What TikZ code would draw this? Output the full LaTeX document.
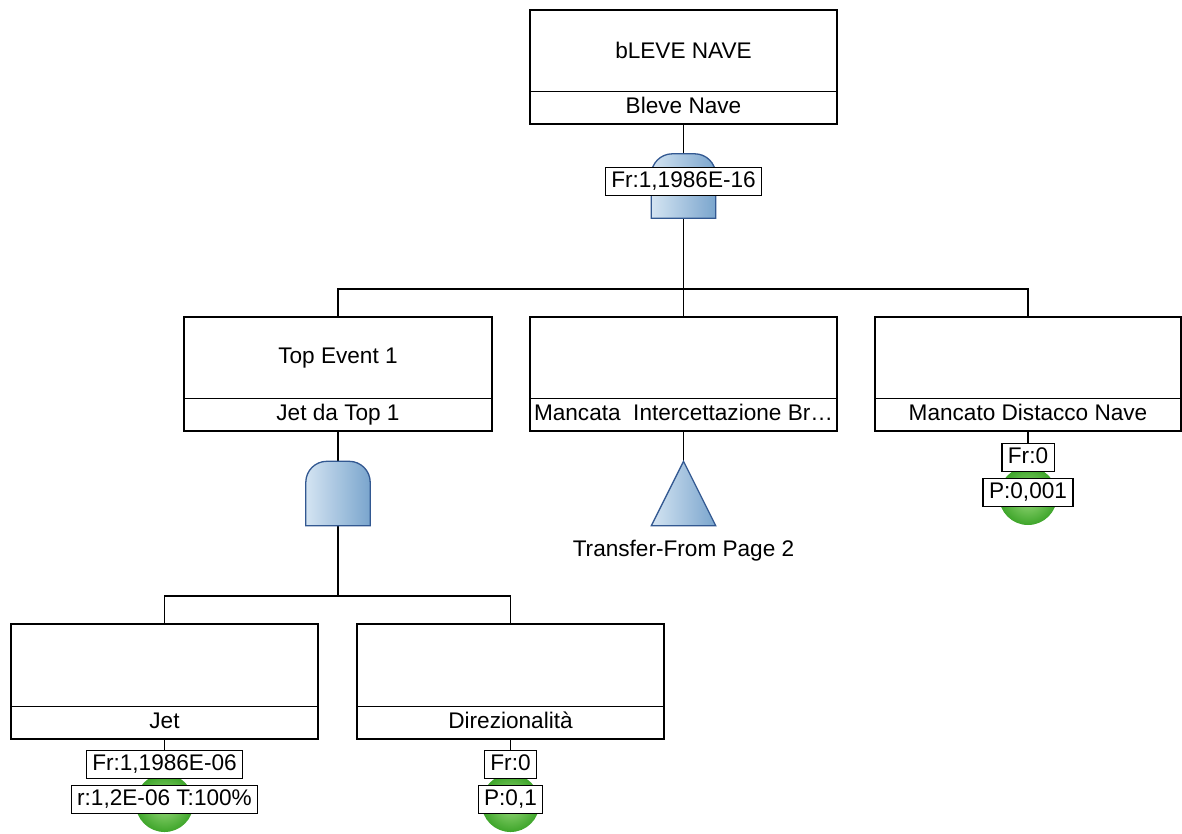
\documentclass[tikz,border=0pt]{standalone}
\usepackage{fontspec}
\setmainfont{Liberation Sans}
\usetikzlibrary{positioning}

\definecolor{gateL}{RGB}{212,228,242}
\definecolor{gateR}{RGB}{122,165,205}
\definecolor{gateB}{RGB}{50,88,145}
\definecolor{baseIn}{RGB}{160,222,130}
\definecolor{baseOut}{RGB}{62,165,42}

\tikzset{
  evhead/.style={minimum width=307pt, minimum height=81pt, inner sep=0pt},
  evfoot/.style={minimum width=307pt, minimum height=32pt, inner sep=0pt, text height=16pt, text depth=4pt},
  frame/.style={line width=1.8pt},
  divider/.style={line width=0.9pt},
  wire/.style={line width=1.5pt},
  gatebox/.style={minimum width=64pt, minimum height=64pt, inner sep=0pt},
  gateshape/.style={left color=gateL, right color=gateR, draw=gateB, line width=1.3pt},
  basic/.style={circle, minimum size=58pt, inner sep=0pt, inner color=baseIn, outer color=baseOut},
  valbox/.style={draw, fill=white, line width=1.2pt, inner xsep=6pt, inner ysep=4pt, text height=16pt, text depth=4pt}
}

\begin{document}
\begin{tikzpicture}[x=1pt,y=-1pt,font=\fontsize{22.6}{27}\selectfont]
  \useasboundingbox (0,0) rectangle (1182,833);

  % top event
  \node[evhead] (bleve) at (683.5,50.5) {bLEVE NAVE};
  \node[evfoot, below=0pt of bleve] (bleveD) {Bleve Nave};
  \draw[frame] (bleve.north west) rectangle (bleveD.south east);
  \draw[divider] (bleve.south west) -- (bleve.south east);

  % first level
  \node[evhead] (top1) at (338,358) {Top Event 1};
  \node[evfoot, below=0pt of top1] (top1D) {Jet da Top 1};
  \draw[frame] (top1.north west) rectangle (top1D.south east);
  \draw[divider] (top1.south west) -- (top1.south east);

  \node[evhead] (brk) at (683.5,358) {};
  \node[evfoot, below=0pt of brk] (brkD) {Mancata\ \ Intercettazione Br…};
  \draw[frame] (brk.north west) rectangle (brkD.south east);
  \draw[divider] (brk.south west) -- (brk.south east);

  \node[evhead, minimum width=306pt] (dist) at (1028,358) {};
  \node[evfoot, minimum width=306pt, below=0pt of dist] (distD) {Mancato Distacco Nave};
  \draw[frame] (dist.north west) rectangle (distD.south east);
  \draw[divider] (dist.south west) -- (dist.south east);

  % second level
  \node[evhead, minimum height=82pt] (jet) at (164.5,665) {};
  \node[evfoot, below=0pt of jet] (jetD) {Jet};
  \draw[frame] (jet.north west) rectangle (jetD.south east);
  \draw[divider] (jet.south west) -- (jet.south east);

  \node[evhead, minimum height=82pt] (dirz) at (510.5,665) {};
  \node[evfoot, below=0pt of dirz] (dirzD) {Direzionalità};
  \draw[frame] (dirz.north west) rectangle (dirzD.south east);
  \draw[divider] (dirz.south west) -- (dirz.south east);

  % gates and transfer
  \node[gatebox] (gate1) at (683.5,186) {};
  \node[gatebox] (gate2) at (338,493.5) {};
  \node[gatebox] (xfer) at (683.5,493.5) {};
  \node (xferL) at (683.5,551) {Transfer-From Page 2};

  % connectors
  \coordinate (bus1) at (683.5,289);
  \coordinate (bus2) at (338,596);
  \draw[wire] (bleveD.south) -- (gate1.north);
  \draw[wire] (gate1.south) -- (bus1);
  \draw[wire] (top1.north) |- (bus1) -| (dist.north);
  \draw[wire] (bus1) -- (brk.north);
  \draw[wire] (top1D.south) -- (gate2.north);
  \draw[wire] (brkD.south) -- (xfer.north);
  \draw[wire] (gate2.south) -- (bus2);
  \draw[wire] (jet.north) |- (bus2) -| (dirz.north);

  \draw[gateshape] (gate1.south west) [rounded corners=21pt] -- (gate1.north west)
    -- (gate1.north east) [sharp corners] -- (gate1.south east) -- cycle;
  \draw[gateshape] (gate2.south west) [rounded corners=21pt] -- (gate2.north west)
    -- (gate2.north east) [sharp corners] -- (gate2.south east) -- cycle;
  \draw[gateshape] (xfer.south west) -- (xfer.north) -- (xfer.south east) -- cycle;

  % basic events
  \node[basic] (distB) at (1028,496) {};
  \node[basic] (jetB) at (164.5,803) {};
  \node[basic] (dirzB) at (510.5,803) {};

  % values
  \node[valbox] (gate1V) at (683.5,181.5) {Fr:1,1986E-16};
  \node[valbox] (distF) at (1028,457.5) {Fr:0};
  \node[valbox] (distP) at (1028,492.5) {P:0,001};
  \node[valbox] (jetF) at (164.5,764.5) {Fr:1,1986E-06};
  \node[valbox] (jetP) at (164.5,799.5) {r:1,2E-06 T:100\%};
  \node[valbox] (dirzF) at (510.5,764.5) {Fr:0};
  \node[valbox] (dirzP) at (510.5,799.5) {P:0,1};
  \draw[wire] (distD.south) -- (distF.north);
  \draw[wire] (jetD.south) -- (jetF.north);
  \draw[wire] (dirzD.south) -- (dirzF.north);

\end{tikzpicture}
\end{document}
